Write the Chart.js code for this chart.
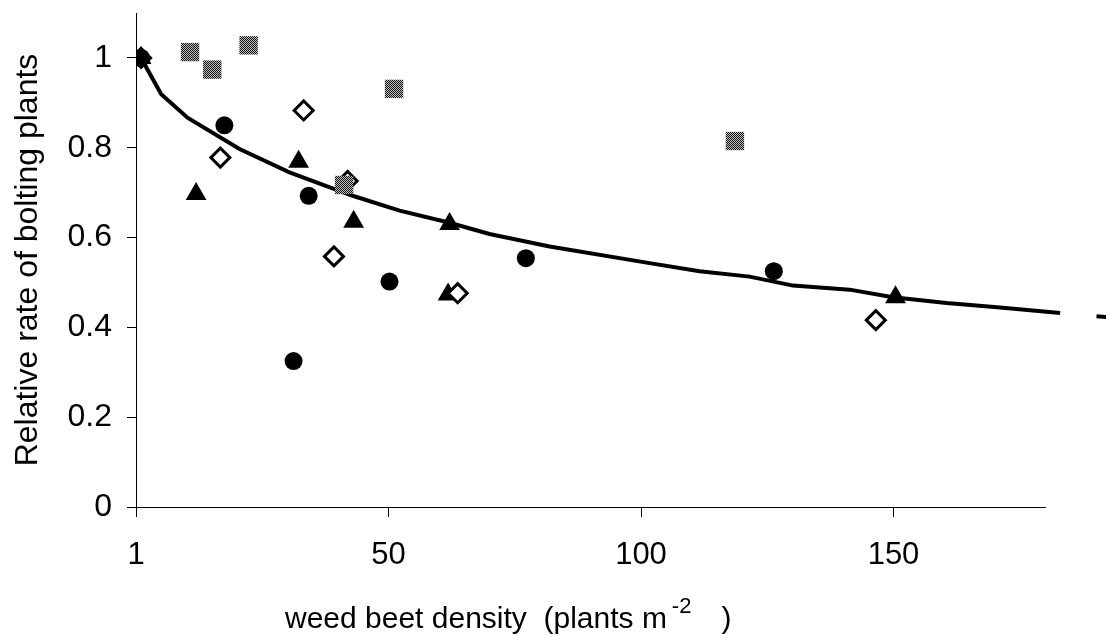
<!DOCTYPE html>
<html>
<head>
<meta charset="utf-8">
<script src="https://cdn.jsdelivr.net/npm/chart.js@4.4.1/dist/chart.umd.min.js"></script>
<style>
  html, body { margin: 0; padding: 0; background: #fff; }
  #wrap { width: 1106px; height: 635px; }
</style>
</head>
<body>
<div id="wrap"><canvas id="bolting" width="1106" height="635"></canvas></div>
<script>
// Observed points, one pair of arrays per marker type (x = weed beet density, y = relative bolting rate)
const circleX = [1, 17.5, 34.2, 50.2, 31.2, 77.2, 126.3];
const circleY = [1, 0.850, 0.693, 0.502, 0.325, 0.554, 0.525];

const triangleX = [1, 11.9, 32.2, 43.1, 62.1, 61.8, 150.4];
const triangleY = [1, 0.697, 0.769, 0.635, 0.630, 0.473, 0.467];

const diamondX = [1, 16.7, 33.2, 41.9, 39.2, 63.7, 146.5];
const diamondY = [1, 0.778, 0.883, 0.726, 0.558, 0.476, 0.416];

const squareX = [10.7, 15.1, 22.3, 41.2, 51.1, 118.6];
const squareY = [1.013, 0.974, 1.028, 0.717, 0.931, 0.815];

// Fitted curve
const curveX = [1, 5.0, 10.2, 20.5, 30.4, 42.9, 52.2, 62.1, 70.0, 81.9, 101.7, 111.6, 121.5, 130.1, 141.3, 149.9, 160.5, 171.1, 183.0];
const curveY = [1, 0.919, 0.867, 0.797, 0.745, 0.693, 0.660, 0.633, 0.608, 0.580, 0.543, 0.525, 0.513, 0.493, 0.484, 0.467, 0.454, 0.444, 0.432];

// Little stray piece of the curve at the right edge
const tailX = [190.2, 192.3];
const tailY = [0.425, 0.423];

// Axis ticks
const xTickValues = [0, 50, 100, 150];
const xTickLabels = ['1', '50', '100', '150'];
const yTickValues = [0, 0.2, 0.4, 0.6, 0.8, 1];
const yTickLabels = ['0', '0.2', '0.4', '0.6', '0.8', '1'];

const FONT = '"Liberation Sans", Arial, sans-serif';

// Zip two arrays into {x, y} points
function toPoints(xs, ys) {
  return xs.map((x, i) => ({ x: x, y: ys[i] }));
}

// Grey dithered fill for the square markers
function makeDither() {
  const c = document.createElement('canvas');
  c.width = 2;
  c.height = 2;
  const g = c.getContext('2d');
  g.fillStyle = '#bdbdbd';
  g.fillRect(0, 0, 2, 2);
  g.fillStyle = '#141414';
  g.fillRect(0, 0, 1, 1);
  g.fillRect(1, 1, 1, 1);
  return g.createPattern(c, 'repeat');
}

// X axis title drawn by hand so the "-2" can be a superscript
const xTitlePlugin = {
  id: 'xTitle',
  afterDraw(chart) {
    const ctx = chart.ctx;
    ctx.save();
    ctx.fillStyle = '#000';
    ctx.textBaseline = 'alphabetic';
    let x = 285;
    const y = 628;
    ctx.font = '30px ' + FONT;
    const main = 'weed beet density  (plants m';
    ctx.fillText(main, x, y);
    x += ctx.measureText(main).width + 5;
    ctx.font = '22px ' + FONT;
    ctx.fillText('-2', x, y - 15);
    x += ctx.measureText('-2').width + 30;
    ctx.font = '30px ' + FONT;
    ctx.fillText(')', x, y);
    ctx.restore();
  }
};

const ctx = document.getElementById('bolting').getContext('2d');
new Chart(ctx, {
  type: 'scatter',
  data: {
    // earlier datasets end up on top
    datasets: [
      {
        data: toPoints(circleX, circleY),
        pointStyle: 'circle',
        pointRadius: 9,
        backgroundColor: '#000',
        borderWidth: 0
      },
      {
        data: toPoints(squareX, squareY),
        pointStyle: 'rect',
        pointRadius: 13,
        backgroundColor: makeDither(),
        borderWidth: 0
      },
      {
        data: toPoints(diamondX, diamondY),
        pointStyle: 'rectRot',
        pointRadius: 9.5,
        backgroundColor: '#fff',
        borderColor: '#000',
        borderWidth: 3
      },
      {
        data: toPoints(triangleX, triangleY),
        pointStyle: 'triangle',
        pointRadius: 12,
        backgroundColor: '#000',
        borderWidth: 0
      },
      {
        type: 'line',
        data: toPoints(curveX, curveY),
        borderColor: '#000',
        borderWidth: 4,
        pointRadius: 0,
        tension: 0,
        clip: false
      },
      {
        type: 'line',
        data: toPoints(tailX, tailY),
        borderColor: '#000',
        borderWidth: 4,
        pointRadius: 0,
        clip: false
      }
    ]
  },
  options: {
    responsive: false,
    animation: false,
    events: [],
    layout: { padding: { left: 0, right: 61, top: 12, bottom: 0 } },
    plugins: {
      legend: { display: false },
      tooltip: { enabled: false }
    },
    scales: {
      x: {
        type: 'linear',
        min: 0,
        max: 180,
        afterBuildTicks: (scale) => { scale.ticks = xTickValues.map(v => ({ value: v })); },
        afterFit: (scale) => {
          scale.height = 128;
          scale.paddingLeft = 0;
          scale.paddingRight = 0;
        },
        border: { color: '#000', width: 1 },
        grid: { drawOnChartArea: false, drawTicks: true, tickLength: 10, color: '#000' },
        ticks: {
          color: '#000',
          font: { family: FONT, size: 31 },
          padding: 20,
          maxRotation: 0,
          callback: (v, i) => xTickLabels[i]
        }
      },
      y: {
        min: 0,
        max: 1.1,
        afterBuildTicks: (scale) => { scale.ticks = yTickValues.map(v => ({ value: v })); },
        afterFit: (scale) => {
          scale.width = 136;
          scale.paddingTop = 0;
          scale.paddingBottom = 0;
        },
        border: { color: '#000', width: 1 },
        grid: { drawOnChartArea: false, drawTicks: true, tickLength: 9, color: '#000' },
        ticks: {
          color: '#000',
          font: { family: FONT, size: 32 },
          padding: 15,
          callback: (v, i) => yTickLabels[i]
        },
        title: {
          display: true,
          text: 'Relative rate of bolting plants',
          color: '#000',
          font: { family: FONT, size: 32 },
          padding: { top: 9, bottom: 0 }
        }
      }
    }
  },
  plugins: [xTitlePlugin]
});
</script>
</body>
</html>
